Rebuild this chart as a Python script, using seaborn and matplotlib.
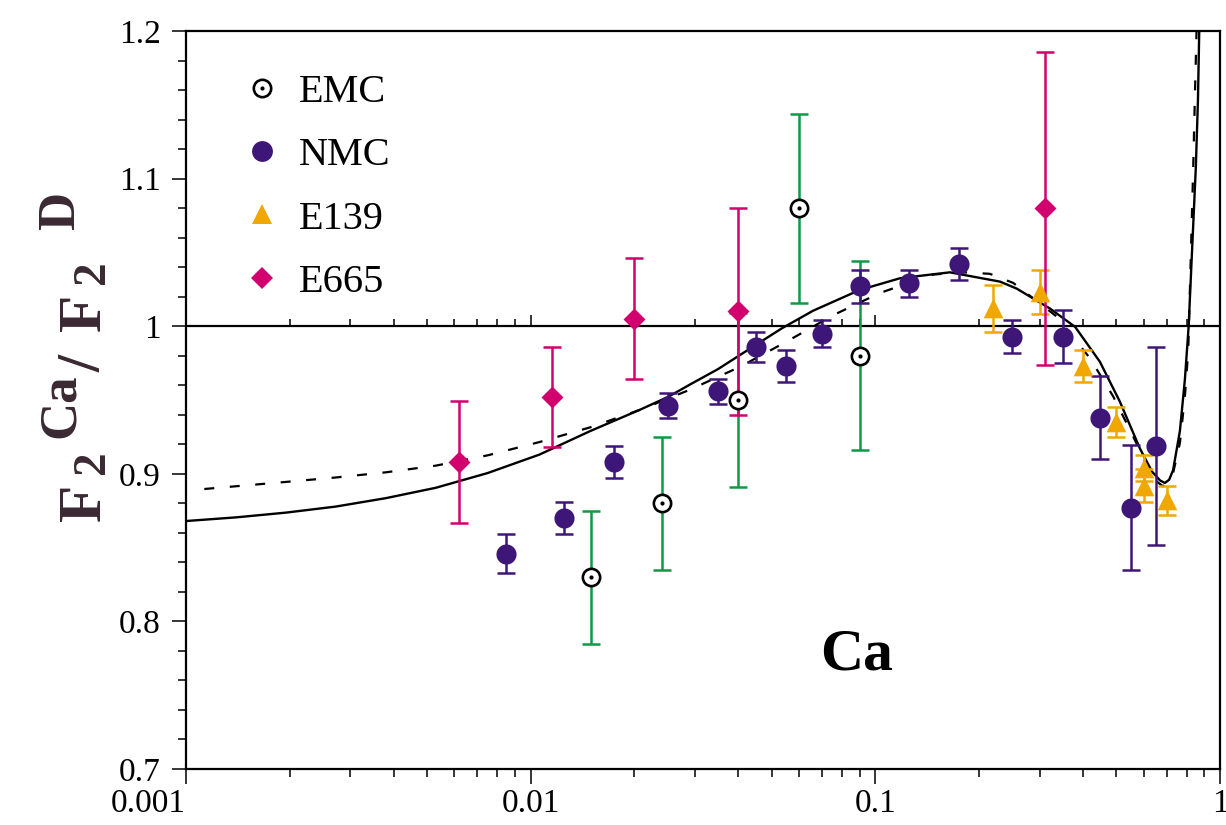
import numpy as np
import pandas as pd
import matplotlib
matplotlib.use("Agg")
import matplotlib.pyplot as plt
import matplotlib.ticker as mticker
from matplotlib.lines import Line2D
from matplotlib.legend_handler import HandlerTuple
import seaborn as sns

# ---------------- data ----------------
emc_x = [0.015, 0.024, 0.040, 0.060, 0.090]
emc_y = [0.830, 0.880, 0.950, 1.080, 0.980]
emc_err = [0.045, 0.045, 0.059, 0.064, 0.064]

nmc_x = [0.0085, 0.0125, 0.0175, 0.025, 0.035, 0.045, 0.055, 0.070,
         0.090, 0.125, 0.175, 0.25, 0.35, 0.45, 0.55, 0.65]
nmc_y = [0.846, 0.870, 0.908, 0.946, 0.956, 0.986, 0.973, 0.995,
         1.027, 1.029, 1.042, 0.993, 0.993, 0.938, 0.877, 0.919]
nmc_err = [0.0135, 0.011, 0.011, 0.0085, 0.0085, 0.010, 0.011, 0.009,
           0.011, 0.009, 0.011, 0.011, 0.018, 0.028, 0.0425, 0.067]

e139_x = [0.22, 0.30, 0.40, 0.50, 0.60, 0.60, 0.70]
e139_y = [1.012, 1.023, 0.973, 0.935, 0.904, 0.892, 0.882]
e139_err = [0.016, 0.015, 0.011, 0.010, 0.009, 0.011, 0.010]

e665_x = [0.0062, 0.0115, 0.020, 0.040, 0.31]
e665_y = [0.908, 0.952, 1.005, 1.010, 1.080]
e665_err = [0.041, 0.034, 0.041, 0.070, 0.106]

solid_x = [0.001, 0.0014, 0.00195, 0.00272, 0.0038, 0.0053, 0.0075, 0.0106,
           0.0149, 0.0208, 0.025, 0.029, 0.035, 0.0405, 0.0535, 0.066,
           0.090, 0.118, 0.1645, 0.23, 0.257, 0.321, 0.38, 0.448, 0.512,
           0.586, 0.635, 0.67, 0.692, 0.712, 0.731, 0.765, 0.791, 0.811,
           0.851, 0.863, 0.8705]
solid_y = [0.868, 0.8705, 0.8737, 0.8778, 0.8835, 0.8905, 0.9005, 0.913,
           0.929, 0.9435, 0.952, 0.9605, 0.971, 0.9805, 0.9985, 1.0105,
           1.0245, 1.0325, 1.0365, 1.0302, 1.0255, 1.012, 0.9995, 0.976, 0.949,
           0.917, 0.9015, 0.8955, 0.8938, 0.896, 0.9025, 0.929, 0.964, 1.000,
           1.108, 1.153, 1.200]

dashed_x = [0.00113, 0.00195, 0.00272, 0.0038, 0.0053, 0.0075, 0.0106,
            0.0149, 0.0208, 0.029, 0.0405, 0.0547, 0.0646, 0.0755, 0.1031,
            0.147, 0.18, 0.2149, 0.2513, 0.3357, 0.4193, 0.49, 0.56, 0.64,
            0.684, 0.731, 0.765, 0.791, 0.809, 0.8363, 0.845, 0.855]
dashed_y = [0.8897, 0.8945, 0.8975, 0.901, 0.9055, 0.9125, 0.9215,
            0.9315, 0.9434, 0.957, 0.9725, 0.989, 0.9985, 1.0075, 1.0225,
            1.035, 1.0365, 1.0355, 1.0293, 1.0066, 0.9784, 0.9524, 0.9253, 0.8965,
            0.8915, 0.9005, 0.9209, 0.9524, 0.984, 1.108, 1.153, 1.200]

x_ticks = [0.001, 0.01, 0.1, 1]
x_tick_labels = ["0.001", "0.01", "0.1", "1"]
y_ticks = [0.7, 0.8, 0.9, 1.0, 1.1, 1.2]
y_tick_labels = ["0.7", "0.8", "0.9", "1", "1.1", "1.2"]
series_names = ["EMC", "NMC", "E139", "E665"]

# ---------------- style ----------------
C_EMC_ERR = "#0e9a45"
C_NMC = "#3d1677"
C_E139 = "#f0a800"
C_E665 = "#d2006e"
C_LABEL = "#3a2832"

sns.set_theme(style="ticks")
plt.rcParams["font.family"] = ["Liberation Serif", "DejaVu Serif"]
for k in ["text.color", "axes.labelcolor", "xtick.color", "ytick.color", "axes.edgecolor"]:
    plt.rcParams[k] = "black"

W, H = 1226, 825
fig = plt.figure(figsize=(W / 100, H / 100), dpi=100)
ax = fig.add_axes([186 / W, 1 - 769 / H, (1220 - 186) / W, (769 - 31) / H])
ax.set_xscale("log")
ax.set_xlim(0.001, 1)
ax.set_ylim(0.7, 1.2)

# reference line at 1 with its own upward ticks
ax.axhline(1.0, color="black", lw=1.6, zorder=2)
sec = ax.secondary_xaxis((1.0 - 0.7) / 0.5)
sec.xaxis.set_major_locator(mticker.LogLocator(base=10))
sec.xaxis.set_minor_locator(mticker.LogLocator(base=10, subs=np.arange(2, 10)))
sec.tick_params(which="major", direction="out", length=8, width=1.1, color="black",
                labeltop=False, labelbottom=False)
sec.tick_params(which="minor", direction="out", length=5, width=1.1, color="black",
                labeltop=False, labelbottom=False)
for s in sec.spines.values():
    s.set_visible(False)

# curves
sns.lineplot(x=solid_x, y=solid_y, ax=ax, color="black", lw=1.7,
             estimator=None, sort=False, zorder=3)
sns.lineplot(x=dashed_x, y=dashed_y, ax=ax, color="black", lw=1.6,
             estimator=None, sort=False, zorder=3, linestyle=(0, (4.5, 7)))

# error bars
eb_kw = dict(fmt="none", elinewidth=1.8, capsize=6.5, capthick=1.8, zorder=4)
ax.errorbar(emc_x, emc_y, yerr=emc_err, ecolor=C_EMC_ERR, **eb_kw)
ax.errorbar(nmc_x, nmc_y, yerr=nmc_err, ecolor=C_NMC, **eb_kw)
ax.errorbar(e139_x, e139_y, yerr=e139_err, ecolor=C_E139, **eb_kw)
ax.errorbar(e665_x, e665_y, yerr=e665_err, ecolor=C_E665, **eb_kw)

# markers
sns.scatterplot(x=nmc_x, y=nmc_y, ax=ax, marker="o", s=210, color=C_NMC,
                edgecolor=C_NMC, linewidth=0, zorder=5, legend=False)
sns.scatterplot(x=e139_x, y=e139_y, ax=ax, marker="^", s=200, color=C_E139,
                edgecolor=C_E139, linewidth=0, zorder=5, legend=False)
sns.scatterplot(x=e665_x, y=e665_y, ax=ax, marker="D", s=125, color=C_E665,
                edgecolor=C_E665, linewidth=0, zorder=5, legend=False)
sns.scatterplot(x=emc_x, y=emc_y, ax=ax, marker="o", s=155, color="white",
                edgecolor="black", linewidth=1.9, zorder=6, legend=False)
sns.scatterplot(x=emc_x, y=emc_y, ax=ax, marker="o", s=9, color="black",
                edgecolor="black", linewidth=0, zorder=7, legend=False)

# axes styling
ax.set_xticks(x_ticks)
ax.set_xticklabels(x_tick_labels)
ax.get_xticklabels()[0].set_horizontalalignment("right")
ax.xaxis.set_minor_locator(mticker.LogLocator(base=10, subs=np.arange(2, 10)))
ax.xaxis.set_minor_formatter(mticker.NullFormatter())
ax.set_yticks(y_ticks)
ax.set_yticklabels(y_tick_labels)
ax.yaxis.set_minor_locator(mticker.MultipleLocator(0.02))
ax.tick_params(which="major", direction="out", width=1.1, color="black")
ax.tick_params(axis="x", which="major", length=11, pad=3, labelsize=24)
ax.tick_params(axis="x", which="minor", length=6, width=1.1, color="black")
ax.tick_params(axis="y", which="major", length=10, pad=8, labelsize=24)
ax.tick_params(axis="y", which="minor", length=6, width=1.1, color="black")
ax.tick_params(top=False, right=False, which="both")
for s in ax.spines.values():
    s.set_visible(True)
    s.set_linewidth(1.6)
    s.set_color("black")
ax.grid(False)
ax.set_xlabel("")
ax.set_ylabel("")

# y label F2^Ca / F2^D built from pieces (scripts nearly full size, as in the original)
label_pieces = [("F", 521, 100, 44), ("2", 474, 104, 34), ("Ca", 438, 74, 38),
                ("/", 372, 100, 44), ("F", 331, 100, 44), ("2", 284, 104, 34),
                ("D", 230, 74, 38)]
for txt, ypix, xbase, fs in label_pieces:
    fig.text(xbase / W, 1 - ypix / H, txt, rotation=90, rotation_mode="anchor",
             ha="left", va="baseline", fontsize=fs, fontweight="bold", color=C_LABEL)

ax.text(0.088, 0.777, "Ca", fontsize=43, fontweight="bold", ha="center",
        va="center", color="black")

# legend
h_emc = (Line2D([], [], ls="none", marker="o", ms=12.5, mfc="white", mec="black", mew=1.9),
         Line2D([], [], ls="none", marker="o", ms=3.0, mfc="black", mec="black", mew=0))
h_nmc = Line2D([], [], ls="none", marker="o", ms=15, mfc=C_NMC, mec=C_NMC, mew=0)
h_e139 = Line2D([], [], ls="none", marker="^", ms=15, mfc=C_E139, mec=C_E139, mew=0)
h_e665 = Line2D([], [], ls="none", marker="D", ms=10.8, mfc=C_E665, mec=C_E665, mew=0)
leg = ax.legend([h_emc, h_nmc, h_e139, h_e665], series_names,
                handler_map={tuple: HandlerTuple(ndivide=1, pad=0)},
                loc="upper left", bbox_to_anchor=(242 / W, 1 - 74 / H),
                bbox_transform=fig.transFigure, frameon=False, fontsize=29,
                handlelength=1.0, handletextpad=0.4, labelspacing=0.645,
                borderpad=0, borderaxespad=0)

fig.savefig("out.png", dpi=100)
